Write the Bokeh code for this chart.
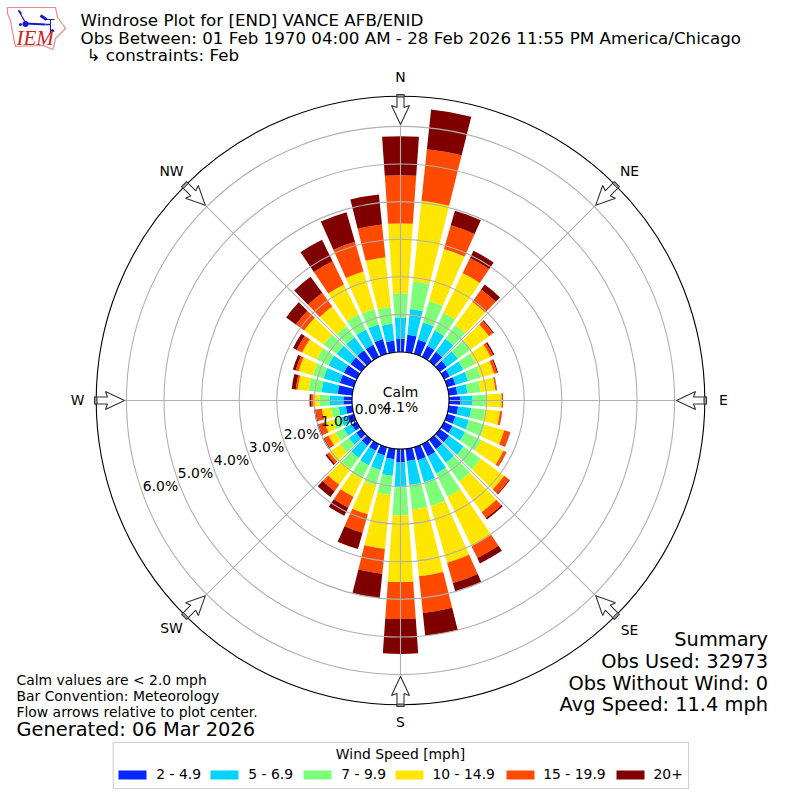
import math
from bokeh.plotting import figure
from bokeh.core.properties import value
from bokeh.embed import file_html
from bokeh.resources import INLINE

# percent of observations by direction (0, 10, ... 350 degrees)
directions = list(range(0, 360, 10))
speed_2_49 = [.36,.47,.39,.33,.31,.23,.17,.23,.23,.31,.25,.23,.25,.31,.31,.36,.36,.33,.36,.28,.23,.20,.20,.17,.15,.17,.17,.23,.39,.39,.39,.36,.36,.36,.41,.31]
speed_5_69 = [.56,.69,.48,.45,.43,.37,.40,.35,.27,.32,.35,.37,.37,.48,.45,.51,.61,.64,.66,.45,.40,.43,.40,.24,.24,.19,.19,.37,.43,.45,.45,.45,.43,.45,.40,.45]
speed_7_99 = [.64,.74,.59,.53,.45,.43,.37,.35,.35,.37,.37,.45,.48,.56,.61,.69,.66,.66,.74,.51,.43,.40,.37,.29,.24,.21,.21,.27,.35,.29,.35,.43,.37,.45,.43,.45]
speed_10_149 = [1.86,2.15,1.44,1.17,.77,.59,.43,.37,.40,.40,.40,.53,.66,.77,1.01,1.46,1.57,1.78,1.78,1.44,.80,.53,.51,.35,.21,.24,.24,.16,.29,.40,.43,.64,.64,.88,1.04,1.33]
speed_15_199 = [1.28,1.38,.66,.45,.40,.13,.08,.08,.03,.03,.05,.16,.08,.16,.19,.35,.56,.98,.98,.66,.51,.32,.21,.08,.13,.16,.16,.05,.05,.08,.16,.27,.45,.69,.82,.88]
speed_20 = [1.04,1.06,.40,.21,.16,.03,.04,.03,.01,.01,.01,.01,.01,.03,.05,.16,.24,.61,.93,.66,.45,.24,.19,.05,.05,.05,.05,.05,.11,.08,.11,.32,.53,.64,.82,.80]
series = [speed_2_49, speed_5_69, speed_7_99, speed_10_149, speed_15_199, speed_20]
speed_labels = ["2 - 4.9", "5 - 6.9", "7 - 9.9", "10 - 14.9", "15 - 19.9", "20+"]
colors = ["#0028ff", "#00d4ff", "#7dff7a", "#ffe600", "#ff4a00", "#800000"]
r_ticks = [0, 1, 2, 3, 4, 5, 6]
compass = ["N", "NE", "E", "SE", "S", "SW", "W", "NW"]
title_lines = ["Windrose Plot for [END] VANCE AFB/ENID",
               "Obs Between: 01 Feb 1970 04:00 AM - 28 Feb 2026 11:55 PM America/Chicago"]

S = 37.6      # pixels per percent
BASE = 48.5 / S
RMAX = 6.8
W = 792
FONT = value("DejaVu Sans")

def X(px): return (px - 400) / S
def Y(py): return (400 - py) / S
def R(pct): return BASE + pct
def math_ang(deg): return math.radians(90 - deg)

p = figure(width=W, height=W, x_range=(-400/S, (W-400)/S), y_range=((400-W)/S, 400/S),
           x_axis_type=None, y_axis_type=None, toolbar_location=None,
           output_backend="svg", min_border=0, outline_line_color=None)
p.grid.visible = False
p.background_fill_color = "white"

def txt(px, py, s, size, align="left", baseline="middle", color="#000000", font=FONT, style="normal"):
    p.text([X(px)], [Y(py - 0.8)], text=[s], text_font=font, text_font_size=size, text_align=align,
           text_baseline=baseline, text_color=color, text_font_style=style)

# bars
half = math.radians(4.0)
for k, vals in enumerate(series):
    inner, outer, st, en = [], [], [], []
    for i, d in enumerate(directions):
        low = sum(s[i] for s in series[:k])
        inner.append(R(low))
        outer.append(R(low + vals[i]))
        st.append(math_ang(d) - half)
        en.append(math_ang(d) + half)
    p.annular_wedge(x=0, y=0, inner_radius=inner, outer_radius=outer, start_angle=st, end_angle=en,
                    fill_color=colors[k], line_color=None)

# grid
gridc = "#b0b0b0"
for t in r_ticks[1:]:
    p.circle(x=[0], y=[0], radius=[R(t)], fill_color=None, line_color=gridc, line_width=1.1)
for k in range(8):
    a = math_ang(45 * k)
    p.line([R(0) * math.cos(a), (RMAX + BASE) * math.cos(a)],
           [R(0) * math.sin(a), (RMAX + BASE) * math.sin(a)],
           line_color=gridc, line_width=1.1)
p.circle(x=[0], y=[0], radius=[R(0)], fill_color=None, line_color="#000000", line_width=1.1)
p.circle(x=[0], y=[0], radius=[304.3 / S], fill_color=None, line_color="#000000", line_width=1.1)

# flow arrows
def arrow(deg):
    a = math_ang(deg)
    ux, uy = math.cos(a), math.sin(a)
    vx, vy = -uy, ux
    outline = [(306, 3.5), (293, 3.5), (295, 9), (276, 0), (295, -9), (293, -3.5), (306, -3.5)]
    xs = [(r * ux + w * vx) / S for r, w in outline]
    ys = [(r * uy + w * vy) / S for r, w in outline]
    p.patch(xs, ys, fill_color="white", fill_alpha=0.9, line_color="#333333", line_width=1.1)
    ss = [(306, 3.5), (303.5, 3.5), (303.5, -3.5), (306, -3.5)]
    p.patch([(r * ux + w * vx) / S for r, w in ss], [(r * uy + w * vy) / S for r, w in ss],
            fill_color="#999999", line_color="#333333", line_width=1)
for k in range(8):
    arrow(45 * k)

# radial labels
label_xy = [(372, 409), (338, 421), (301, 434), (266, 447), (231, 460), (195, 473), (160, 486)]
for t, (lx, ly) in zip(r_ticks, label_xy):
    txt(lx, ly, f"{t:.1f}%", "13.9px", "center")

compass_xy = [(400, 77), (629, 171), (723, 400), (629, 630), (400, 722), (171, 628), (77, 400), (171, 171)]
for s, (lx, ly) in zip(compass, compass_xy):
    txt(lx, ly, s, "13.9px", "center")

txt(400, 392, "Calm", "13.9px", "center")
txt(400, 407, "4.1%", "13.9px", "center")

# titles
txt(80, 20.5, title_lines[0], "16.7px")
txt(80, 38.5, title_lines[1], "16.7px")
txt(86, 55.5, "\u21b3 constraints: Feb", "16.7px")

# summary
for py, s in [(640, "Summary"), (661.5, "Obs Used: 32973"), (683.5, "Obs Without Wind: 0"), (705, "Avg Speed: 11.4 mph")]:
    txt(767.5, py, s, "19.4px", "right")

# notes
for py, s in [(680, "Calm values are < 2.0 mph"), (696, "Bar Convention: Meteorology"), (712, "Flow arrows relative to plot center.")]:
    txt(16, py, s, "13.9px")
txt(16, 729.5, "Generated: 06 Mar 2026", "19.4px")

# legend
p.quad(left=[X(112.7)], right=[X(688)], top=[Y(742)], bottom=[Y(788)], fill_color="white",
       line_color="#d0d0d0", line_width=1.1)
txt(400, 753.8, "Wind Speed [mph]", "13.9px", "center")
patch_x = [118, 210, 303, 395, 506, 616]
text_x = [155.7, 247.7, 340.7, 432, 542.7, 653]
for c, lab, px, tx in zip(colors, speed_labels, patch_x, text_x):
    p.quad(left=[X(px)], right=[X(px + 28)], top=[Y(770)], bottom=[Y(779)], fill_color=c, line_color=None)
    txt(tx, 774.5, lab, "13.9px")

# logo
outline = [(7,7),(55,7),(57,17),(63,25),(65,28),(60,33),(55,38),(53,47),(52,49),(43,45),(15,46),(13,37),(10,20),(7,13)]
p.patch([X(a) for a, b in outline], [Y(b) for a, b in outline], fill_color="white", line_color="#e88a8a", line_width=1.2)
blue = "#1a1acc"
for seg, lw in [([(25,23),(45,24)], 2.2), ([(18,10),(25,22)], 1.2), ([(18,10),(21,13)], 1.6),
                ([(40,15),(46,19)], 3), ([(44,19),(54,19)], 1), ([(50,19),(50,32)], 1), ([(45,24),(50,24)], 1.5)]:
    p.line([X(a) for a, b in seg], [Y(b) for a, b in seg], line_color=blue, line_width=lw)
p.scatter([X(25)], [Y(23.5)], size=6, fill_color=blue, line_color=None)
p.scatter([X(20), X(52)], [Y(24), Y(30)], size=3, fill_color=blue, line_color=None)
txt(16, 38.5, "IEM", "21px", font=value("Liberation Serif"), color="#cc2222", style="italic")

open("out.html", "w").write(file_html(p, INLINE))
